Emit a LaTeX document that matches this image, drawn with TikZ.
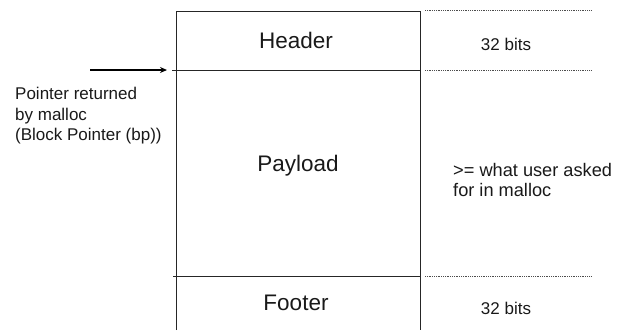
\documentclass[tikz,border=0pt]{standalone}
\usepackage{fontspec}
\setmainfont{Liberation Sans}
\usetikzlibrary{arrows.meta}
\begin{document}
\begin{tikzpicture}[x=1pt,y=-1pt,
  boxline/.style={line width=0.9pt,draw=black!85},
  dotline/.style={line width=0.6pt,draw=black!70,dash pattern=on 0.6pt off 1.2pt},
  biglabel/.style={font=\fontsize{22.5}{26}\selectfont,inner sep=0pt,text=black!90},
  smalllabel/.style={font=\fontsize{17}{20.5}\selectfont,inner sep=0pt,text=black!90,align=left}]
\useasboundingbox (0,0) rectangle (619,330);
% block coordinates
\coordinate (tl) at (176,11);
\coordinate (tr) at (420,11);
\coordinate (bl) at (176,330);
\coordinate (br) at (420,330);
\coordinate (hl) at (172,70);
\coordinate (hr) at (420,70);
\coordinate (fl) at (173,276);
\coordinate (fr) at (420,276);
% box
\draw[boxline] (bl) -- (tl) -- (tr) -- (br);
\draw[boxline] (hl) -- (hr);
\draw[boxline] (fl) -- (fr);
% dotted markers
\coordinate (d1a) at (425,10);  \coordinate (d1b) at (592,10);
\coordinate (d2a) at (425,70);  \coordinate (d2b) at (592,70);
\coordinate (d3a) at (425,276); \coordinate (d3b) at (592,276);
\draw[dotline] (d1a) -- (d1b);
\draw[dotline] (d2a) -- (d2b);
\draw[dotline] (d3a) -- (d3b);
% arrow
\coordinate (as) at (90,70);
\coordinate (ae) at (167,70);
\draw[line width=1.4pt,-{Stealth[length=7pt,width=6pt]}] (as) -- (ae);
% labels
\node[biglabel] (header) at (296,40) {Header};
\node[biglabel] (payload) at (298,166) {Payload};
\node[biglabel] (footer) at (296,303) {Footer};
\node[smalllabel] (b1) at (506,44) {32 bits};
\node[smalllabel] (b2) at (506,308) {32 bits};
\node[smalllabel,font=\fontsize{18.2}{20}\selectfont,anchor=north west] (user) at (453,163) {>= what user asked\\for in malloc};
\node[smalllabel,anchor=north west] (ptr) at (15,87) {Pointer returned\\by malloc\\(Block Pointer (bp))};
\end{tikzpicture}
\end{document}
